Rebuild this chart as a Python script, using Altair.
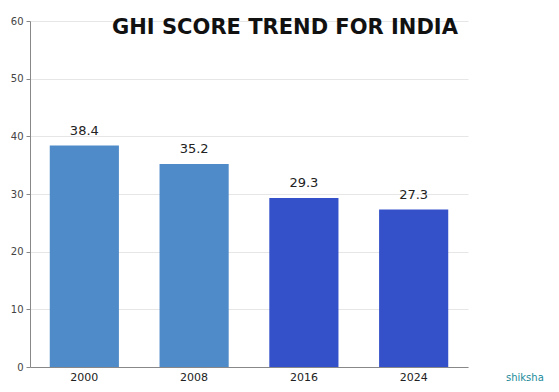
import altair as alt
import pandas as pd

years = ["2000", "2008", "2016", "2024"]
scores = [38.4, 35.2, 29.3, 27.3]
colors = ["#4f8bc9", "#4f8bc9", "#3551c9", "#3551c9"]
title_text = "GHI SCORE TREND FOR INDIA"

df = pd.DataFrame({"year": years, "score": scores, "color": colors,
                   "label": [f"{s:.1f}" for s in scores]})

W, H = 438, 346

x = alt.X("year:N", sort=years, title=None,
          scale=alt.Scale(paddingInner=0.37, paddingOuter=0.18),
          axis=alt.Axis(labelAngle=0, labelFont="DejaVu Sans", labelFontSize=11,
                        labelColor="#222", domainColor="#888", ticks=False,
                        labelPadding=4))
y = alt.Y("score:Q", title=None,
          scale=alt.Scale(domain=[0, 60]),
          axis=alt.Axis(values=[0, 10, 20, 30, 40, 50, 60], labelFont="DejaVu Sans",
                        labelFontSize=10, labelColor="#444", domainColor="#888",
                        tickColor="#888", tickSize=4, gridColor="#e6e6e6",
                        labelPadding=3))

bars = alt.Chart(df).mark_bar().encode(
    x=x, y=y, color=alt.Color("color:N", scale=None))

labels = alt.Chart(df).mark_text(dy=-15, font="DejaVu Sans", fontSize=13,
                                 color="#222").encode(
    x=alt.X("year:N", sort=years), y="score:Q", text="label:N")

title = alt.Chart(pd.DataFrame({"t": [title_text]})).mark_text(
    font="DejaVu Sans", fontWeight="bold", fontSize=21, color="#111",
    baseline="alphabetic", align="center").encode(
    x=alt.value(255), y=alt.value(13), text="t:N")

mark = alt.Chart(pd.DataFrame({"t": ["shiksha"]})).mark_text(
    font="DejaVu Sans", fontSize=10, color="#1a8a9a", align="left",
    baseline="alphabetic").encode(
    x=alt.value(476), y=alt.value(360), text="t:N")

chart = alt.layer(bars, labels, title, mark).properties(
    width=W, height=H,
    autosize=alt.AutoSizeParams(type="none"),
    padding={"left": 22, "top": 13, "right": 81, "bottom": 17},
).configure_view(stroke=None).configure_axis(domainWidth=1)

chart.save("out.html", embed_options={"renderer": "svg", "actions": False})
